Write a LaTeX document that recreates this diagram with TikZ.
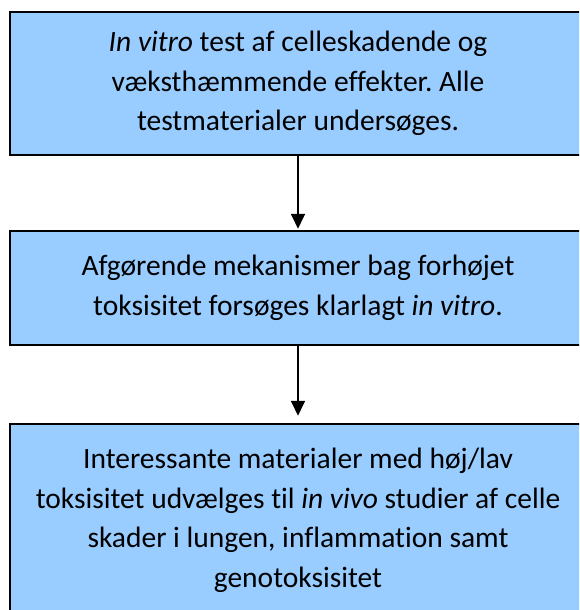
\documentclass[tikz,border=0pt]{standalone}
\usepackage{fontspec}
\setmainfont{Carlito}[Ligatures=NoCommon]
\usetikzlibrary{arrows.meta}
\definecolor{boxblue}{HTML}{99CCFF}
\frenchspacing

\begin{document}
\begin{tikzpicture}[x=1pt, y=-1pt,
  block/.style={draw, line width=1.5pt, fill=boxblue, minimum width=576pt, align=center,
    font=\fontsize{29.5}{39.5}\selectfont, inner sep=0pt},
  link/.style={-{Triangle[length=15pt, width=14pt]}, line width=1.8pt}]

  \useasboundingbox (0,0) rectangle (579,610);
  \clip (0,0) rectangle (579,610);

  % Boxes
  \node[block, minimum height=143pt] (B1) at (298,83.5)
    {\textit{In vitro} test af celleskadende og\\væksthæmmende effekter. Alle\\testmaterialer undersøges.};
  \node[block, minimum height=114pt] (B2) at (298,288)
    {Afgørende mekanismer bag forhøjet\\toksisitet forsøges klarlagt \textit{in vitro}.};
  \node[block, minimum height=188pt, text depth=0pt] (B3) at (298,518)
    {Interessante materialer med høj/lav\\toksisitet udvælges til \textit{in vivo} studier af celle\\skader i lungen, inflammation samt\\genotoksisitet};

  % Arrows
  \draw[link] (B1.south) -- ++(0,73);
  \draw[link] (B2.south) -- ++(0,70);

\end{tikzpicture}
\end{document}
